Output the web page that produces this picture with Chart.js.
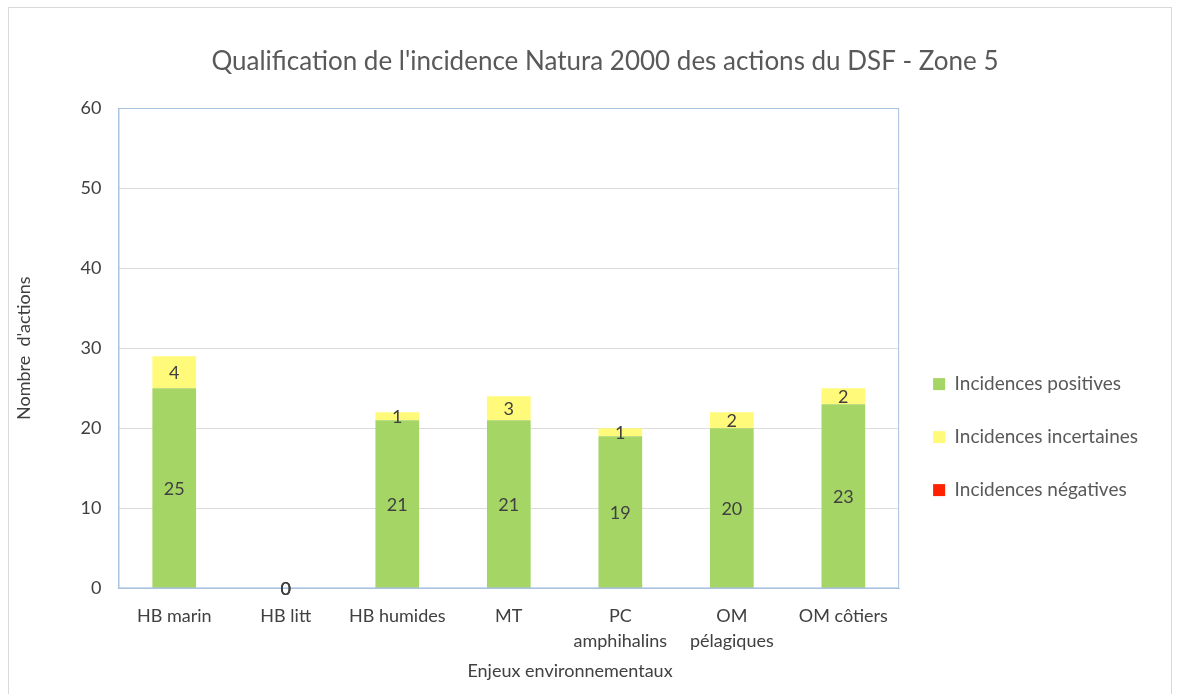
<!DOCTYPE html>
<html>
<head>
<meta charset="utf-8">
<script src="https://cdn.jsdelivr.net/npm/chart.js@4/dist/chart.umd.min.js"></script>
<style>
  body { margin: 0; background: #fff; }
  #frame { position: absolute; left: 8px; top: 7px; width: 1162px; height: 700px; border: 1px solid #d9d9d9; }
</style>
</head>
<body>
<div id="frame"><canvas id="chart" width="1161" height="687"></canvas></div>
<script>
const categories = ['HB marin', 'HB litt', 'HB humides', 'MT', ['PC', 'amphihalins'], ['OM', 'pélagiques'], 'OM côtiers'];
const positives = [25, 0, 21, 21, 19, 20, 23];
const incertaines = [4, 0, 1, 3, 1, 2, 2];
const negatives = [null, 0, null, null, null, null, null];

const chartTitle = "Qualification de l'incidence Natura 2000 des actions du DSF - Zone 5";
const xTitle = 'Enjeux environnementaux';

const FONT = 'Lato, "Open Sans", sans-serif';

// plot area outline (Excel style)
const plotBorder = {
  id: 'plotBorder',
  afterDatasetsDraw(chart) {
    const a = chart.chartArea, ctx = chart.ctx;
    ctx.save();
    ctx.strokeStyle = '#a9c2df';
    ctx.lineWidth = 1;
    ctx.strokeRect(a.left + 0.5, a.top + 0.5, a.right - a.left - 1, a.bottom - a.top - 1);
    ctx.restore();
  }
};

// value labels centred in each segment
const segLabels = {
  id: 'segLabels',
  afterDatasetsDraw(chart) {
    const ctx = chart.ctx;
    ctx.save();
    ctx.font = '18px ' + FONT;
    ctx.fillStyle = '#404040';
    ctx.textAlign = 'center';
    ctx.textBaseline = 'middle';
    chart.data.datasets.forEach(function(ds, i) {
      const meta = chart.getDatasetMeta(i);
      meta.data.forEach(function(bar, j) {
        const v = ds.data[j];
        if (v === null) return;
        const p = bar.getProps(['x', 'y', 'base'], true);
        ctx.fillText(v, p.x, (p.y + p.base) / 2 + 1);
      });
    });
    ctx.restore();
  }
};

// titles placed like in the Excel original (not centred on the axis)
const freeTitles = {
  id: 'freeTitles',
  afterDraw(chart) {
    const ctx = chart.ctx;
    ctx.save();
    ctx.textAlign = 'center';
    ctx.textBaseline = 'middle';
    ctx.fillStyle = '#595959';
    ctx.font = '26px ' + FONT;
    ctx.fillText(chartTitle, 596, 54);
    ctx.fillStyle = '#404040';
    ctx.font = '18px ' + FONT;
    ctx.fillText(xTitle, 561, 663);
    ctx.restore();
  }
};

new Chart(document.getElementById('chart'), {
  type: 'bar',
  data: {
    labels: categories,
    datasets: [
      { label: 'Incidences positives', data: positives, backgroundColor: '#a5d665' },
      { label: 'Incidences incertaines', data: incertaines, backgroundColor: '#fffa7a' },
      { label: 'Incidences négatives', data: negatives, backgroundColor: '#ff2200' }
    ]
  },
  options: {
    responsive: false,
    animation: false,
    layout: { padding: { left: 0, right: 22, top: 100, bottom: 34 } },
    datasets: { bar: { categoryPercentage: 0.8, barPercentage: 0.49 } },
    plugins: {
      title: { display: false },
      legend: {
        position: 'right',
        title: { display: true, text: '', font: { size: 1 }, padding: { top: 104, bottom: 0 } },
        labels: {
          boxWidth: 12, boxHeight: 12, padding: 34,
          color: '#595959',
          font: { family: FONT, size: 19 }
        }
      },
      tooltip: { enabled: false }
    },
    scales: {
      x: {
        stacked: true,
        grid: { display: false },
        border: { color: '#a9c2df' },
        ticks: { color: '#404040', font: { family: FONT, size: 18, lineHeight: 1.35 }, padding: 8, maxRotation: 0 }
      },
      y: {
        stacked: true,
        min: 0, max: 60,
        ticks: { stepSize: 10, color: '#404040', font: { family: FONT, size: 18 }, padding: 17 },
        grid: { color: '#dcdcdc', drawTicks: false },
        border: { color: '#a9c2df' },
        title: { display: true, text: "Nombre  d'actions", color: '#404040', font: { family: FONT, size: 18 }, padding: { bottom: 29 } }
      }
    }
  },
  plugins: [plotBorder, segLabels, freeTitles]
});
</script>
</body>
</html>
